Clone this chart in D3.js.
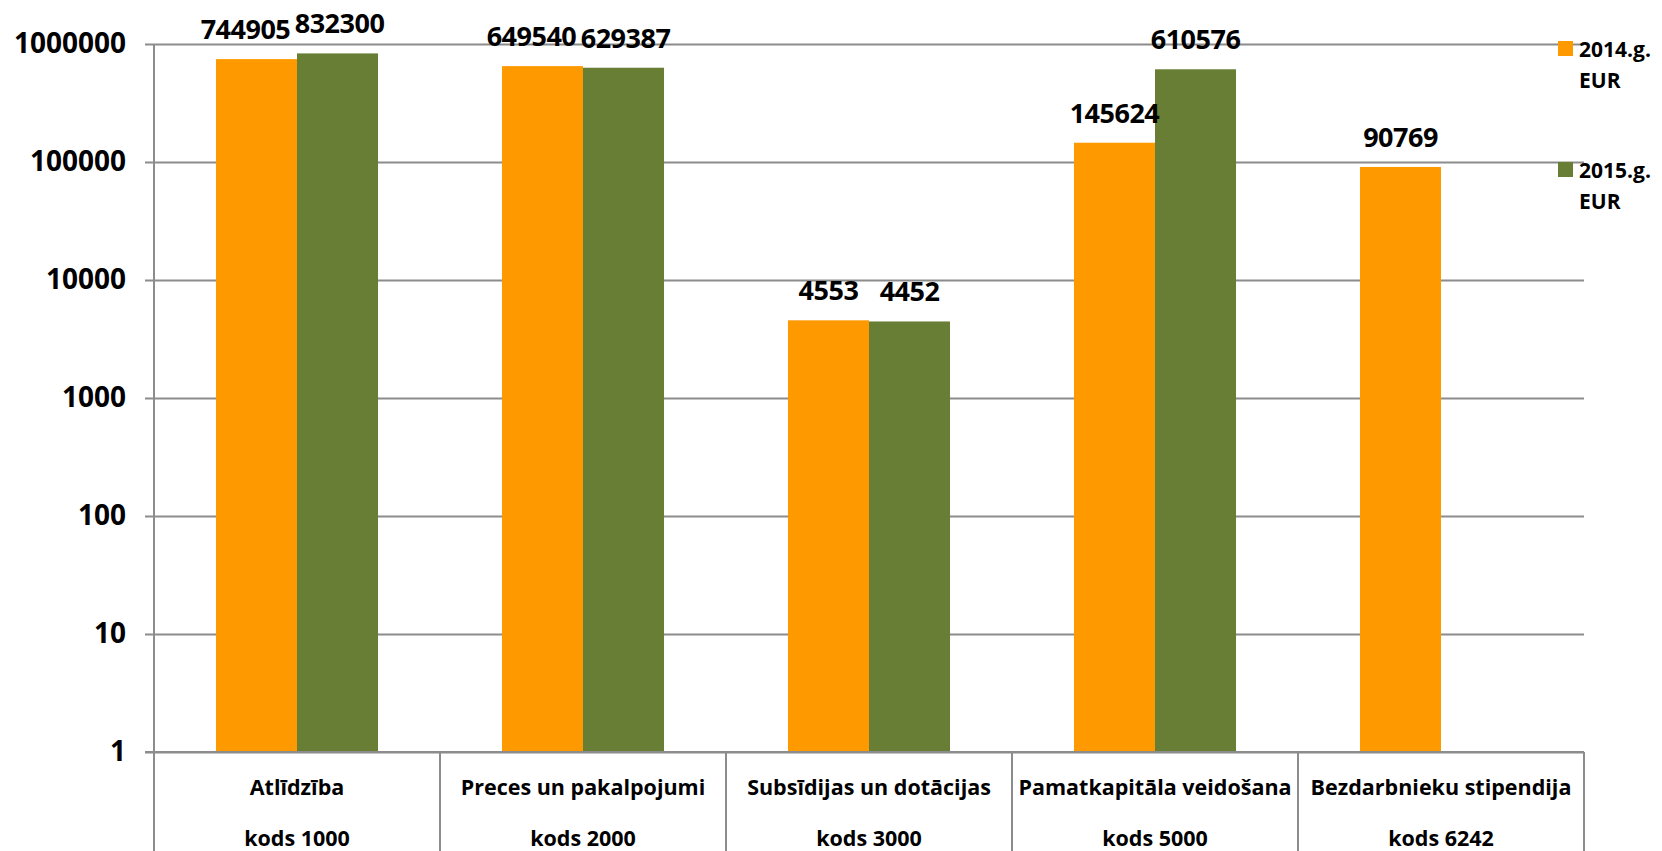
<!DOCTYPE html>
<html><head><meta charset="utf-8">
<script src="https://cdn.jsdelivr.net/npm/d3@7"></script>
<style>html,body{margin:0;padding:0;background:#fff;}svg{display:block;font-family:"Open Sans",sans-serif;font-weight:bold;}</style>
</head><body>
<svg id="c" width="1662" height="851"></svg>
<script>
const categories = ["Atlīdzība|kods 1000","Preces un pakalpojumi|kods 2000","Subsīdijas un dotācijas|kods 3000","Pamatkapitāla veidošana|kods 5000","Bezdarbnieku stipendija|kods 6242"];
const seriesNames = ["2014.g.|EUR","2015.g.|EUR"];
const values2014 = [744905, 649540, 4553, 145624, 90769];
const values2015 = [832300, 629387, 4452, 610576, null];
const yTicks = [1, 10, 100, 1000, 10000, 100000, 1000000];
const colors = ["#FF9900", "#677E34"];

(function(){
const svg = d3.select("#c");
const pl = 154, pr = 1584, pt = 44, pb = 752;
const x0 = d3.scaleBand().domain(categories).range([pl, pr]).padding(0);
const x1 = d3.scaleBand().domain(seriesNames).range([0, x0.bandwidth()]).paddingInner(0).paddingOuter(0.765);
const y = d3.scaleLog().domain([1, 1000000]).range([pb, pt]);
const color = d3.scaleOrdinal().domain(seriesNames).range(colors);
const grid = "#8c8c8c";

// gridlines + y ticks
const yAxis = d3.axisLeft(y).tickValues(yTicks).tickFormat(d3.format("d")).tickSize(-(pr - pl)).tickPadding(28);
const ga = svg.append("g").attr("transform", `translate(${pl},0)`).call(yAxis);
ga.select(".domain").remove();
ga.selectAll(".tick line").attr("stroke", grid).attr("stroke-width", 2).attr("x1", -9);
ga.selectAll(".tick text").attr("font-size", 28).attr("font-weight", "bold").attr("fill", "#000")
  .attr("font-family", "Open Sans, sans-serif").attr("x", -28);

// y axis line
svg.append("line").attr("x1", pl).attr("x2", pl).attr("y1", pt).attr("y2", pb).attr("stroke", grid).attr("stroke-width", 2);

// bars
const data = categories.map((c, i) => ({cat: c, vals: [values2014[i], values2015[i]]}));
const groups = svg.append("g").selectAll("g").data(data).join("g")
  .attr("transform", d => `translate(${x0(d.cat)},0)`);
groups.selectAll("rect").data(d => d.vals.map((v, j) => ({s: seriesNames[j], v})).filter(e => e.v != null))
  .join("rect")
  .attr("x", e => x1(e.s)).attr("width", x1.bandwidth())
  .attr("y", e => y(e.v)).attr("height", e => pb - y(e.v))
  .attr("fill", e => color(e.s));
const labels = groups.selectAll("text.val").data(d => d.vals.map((v, j) => ({s: seriesNames[j], j, v})).filter(e => e.v != null))
  .join("text").attr("class", "val")
  .attr("x", e => x1(e.s) + x1.bandwidth() / 2).attr("y", e => y(e.v) - 20)
  .attr("text-anchor", "middle").attr("font-size", 27).attr("letter-spacing", -0.5).attr("fill", "#000")
  .text(e => e.v);
// nudge apart a pair of labels that would collide (as Excel does)
groups.each(function() {
  const t = d3.select(this).selectAll("text.val").nodes();
  if (t.length < 2) return;
  const a = t[0].getBBox(), b = t[1].getBBox();
  const overlapX = a.x + a.width > b.x, overlapY = Math.abs(a.y - b.y) < a.height;
  if (overlapX && overlapY) {
    d3.select(t[0]).attr("dx", -11);
    d3.select(t[1]).attr("dx", 2);
  }
});

// category axis
svg.append("line").attr("x1", pl - 9).attr("x2", pr).attr("y1", pb).attr("y2", pb).attr("stroke", grid).attr("stroke-width", 2);
const seps = categories.map(c => x0(c)).concat([pr]);
svg.append("g").selectAll("line").data(seps).join("line")
  .attr("x1", d => d).attr("x2", d => d).attr("y1", pb).attr("y2", 851)
  .attr("stroke", grid).attr("stroke-width", 2);
const cl = svg.append("g").selectAll("text").data(categories).join("text")
  .attr("x", c => x0(c) + x0.bandwidth() / 2).attr("text-anchor", "middle")
  .attr("font-size", 21.5).attr("fill", "#000");
cl.append("tspan").attr("x", c => x0(c) + x0.bandwidth() / 2).attr("y", 795).text(c => c.split("|")[0]);
cl.append("tspan").attr("x", c => x0(c) + x0.bandwidth() / 2).attr("y", 846).text(c => c.split("|")[1]);

// legend
const legY = [41, 162];
const lg = svg.append("g").selectAll("g").data(seriesNames).join("g")
  .attr("transform", (d, i) => `translate(1558,${legY[i]})`);
lg.append("rect").attr("width", 15).attr("height", 15).attr("fill", d => color(d));
const lt = lg.append("text").attr("font-size", 21).attr("fill", "#000");
lt.append("tspan").attr("x", 21).attr("y", 16).text(d => d.split("|")[0]);
lt.append("tspan").attr("x", 21).attr("y", 47).text(d => d.split("|")[1]);
})();
</script>
</body></html>
